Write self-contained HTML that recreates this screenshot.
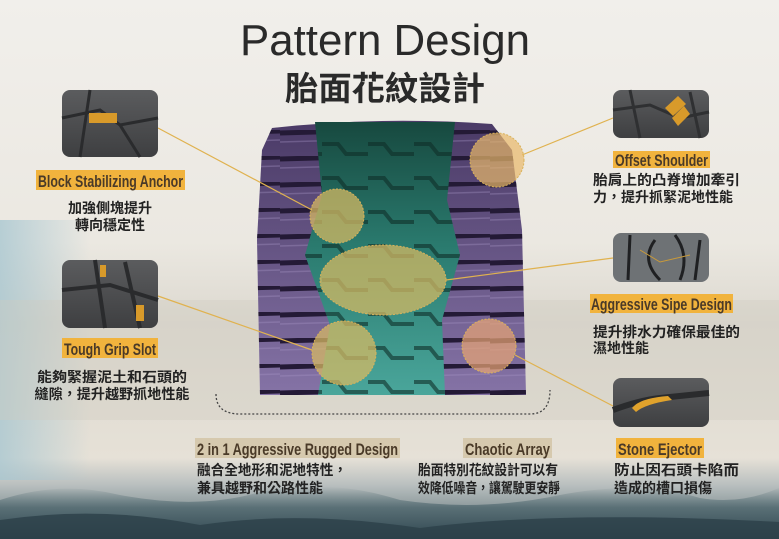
<!DOCTYPE html>
<html><head><meta charset="utf-8"><style>
html,body{margin:0;padding:0;width:779px;height:539px;overflow:hidden;background:#efede8}
svg{display:block}
</style></head><body>
<svg width="779" height="539" viewBox="0 0 779 539" xmlns="http://www.w3.org/2000/svg">
<defs>
<linearGradient id="bg" x1="0" y1="0" x2="0" y2="1">
<stop offset="0" stop-color="#f1efeb"/><stop offset="0.45" stop-color="#ebe8e1"/>
<stop offset="0.6" stop-color="#dcd8cf"/><stop offset="0.85" stop-color="#e6e1d7"/>
<stop offset="0.9" stop-color="#b9bfbf"/><stop offset="1" stop-color="#4f666c"/>
</linearGradient>
<linearGradient id="leftblue" x1="0" y1="0" x2="1" y2="0">
<stop offset="0" stop-color="#a9c7d1" stop-opacity="0.8"/><stop offset="1" stop-color="#a9c7d1" stop-opacity="0"/>
</linearGradient>
<linearGradient id="teal" x1="0" y1="0" x2="0" y2="1">
<stop offset="0" stop-color="#17493f"/><stop offset="0.45" stop-color="#2a7a6e"/><stop offset="1" stop-color="#4aa69b"/>
</linearGradient>
<linearGradient id="purp" x1="0" y1="0" x2="0" y2="1">
<stop offset="0" stop-color="#4a3a66"/><stop offset="1" stop-color="#8573a6"/>
</linearGradient>
<pattern id="tread" width="70" height="26" patternUnits="userSpaceOnUse">
<path d="M0 3 L70 1" stroke="#241a36" stroke-width="5"/>
<path d="M0 12 L70 10" stroke="#a593c4" stroke-width="1.5" opacity="0.35"/>
</pattern>
<pattern id="tread2" width="46" height="34" patternUnits="userSpaceOnUse">
<path d="M0 8 L16 8 L24 18 L46 18" stroke="#0e2e28" stroke-width="4" fill="none"/>
</pattern>
<linearGradient id="thumb" x1="0" y1="0" x2="0" y2="1"><stop offset="0" stop-color="#5b5c5e"/><stop offset="1" stop-color="#3e3f41"/></linearGradient>
<linearGradient id="bottom" x1="0" y1="0" x2="0" y2="1"><stop offset="0" stop-color="#6f8388" stop-opacity="0"/><stop offset="0.4" stop-color="#5a7076"/><stop offset="1" stop-color="#2f4650"/></linearGradient>
</defs>
<rect width="779" height="539" fill="url(#bg)"/>
<rect x="0" y="220" width="90" height="260" fill="url(#leftblue)"/>
<rect x="0" y="300" width="779" height="120" fill="#cfcac0" opacity="0.35"/>
<path d="M0 500 Q60 480 120 495 Q200 510 260 492 Q330 478 400 500 Q480 512 560 495 Q640 480 700 498 Q740 505 779 488 L779 539 L0 539 Z" fill="url(#bottom)"/>
<path d="M0 520 Q100 505 200 525 Q300 510 420 528 Q560 510 779 522 L779 539 L0 539Z" fill="#2c4048" opacity="0.8"/>

<text x="385" y="55" text-anchor="middle" font-family="Liberation Sans, sans-serif" font-size="44" fill="#2a2a2a" textLength="290" lengthAdjust="spacingAndGlyphs">Pattern Design</text>
<text x="385" y="100" text-anchor="middle" font-family="Liberation Sans, Noto Sans CJK TC, sans-serif" font-size="33" font-weight="bold" fill="#2a2a2a" textLength="200" lengthAdjust="spacingAndGlyphs">胎面花紋設計</text>

<path d="M272 128 Q380 116 492 124 L512 150 L522 230 L526 395 L260 395 L257 240 L262 150 Z" fill="url(#purp)"/>
<path d="M272 128 Q380 116 492 124 L512 150 L522 230 L526 395 L260 395 L257 240 L262 150 Z" fill="url(#tread)"/>
<path d="M315 122 L455 122 L447 200 L460 255 L442 320 L445 395 L318 395 L330 325 L305 255 L322 195 Z" fill="url(#teal)"/>
<path d="M315 122 L455 122 L447 200 L460 255 L442 320 L445 395 L318 395 L330 325 L305 255 L322 195 Z" fill="url(#tread2)" opacity="0.6"/>

<path d="M216 394 Q216 414 240 414 L530 414 Q550 414 550 390" fill="none" stroke="#444" stroke-width="1.3" stroke-dasharray="2 2"/>

<g stroke="#e0b24f" stroke-width="1.2" fill="none">
<line x1="158" y1="128" x2="312" y2="210"/>
<line x1="158" y1="296" x2="312" y2="350"/>
<line x1="613" y1="118" x2="522" y2="155"/>
<line x1="613" y1="258" x2="446" y2="280"/>
<line x1="613" y1="406" x2="515" y2="355"/>
</g>
<g stroke="#d9b25a" stroke-width="1" stroke-dasharray="2 1.5">
<circle cx="337" cy="216" r="27" fill="#d9bb63" fill-opacity="0.72"/>
<ellipse cx="383" cy="280" rx="63" ry="35" fill="#d9bb63" fill-opacity="0.72"/>
<circle cx="344" cy="353" r="32" fill="#d9bb63" fill-opacity="0.72"/>
<circle cx="497" cy="160" r="27" fill="#e8b86a" fill-opacity="0.7"/>
<circle cx="489" cy="346" r="27" fill="#e9a574" fill-opacity="0.7"/>
</g>

<g>
<rect x="62" y="90" width="96" height="67" rx="8" fill="url(#thumb)"/>
<path d="M62 118 L100 110 L120 125 L158 118 M90 90 L80 157 M120 125 L140 157" stroke="#2a2b2d" stroke-width="3" fill="none"/>
<rect x="89" y="113" width="28" height="10" fill="#d89a2a"/>
<rect x="62" y="260" width="96" height="68" rx="8" fill="url(#thumb)"/>
<path d="M62 290 L110 285 L158 300 M95 260 L105 328 M125 262 L140 328" stroke="#2a2b2d" stroke-width="4" fill="none"/>
<rect x="100" y="265" width="6" height="12" fill="#d89a2a"/><rect x="136" y="305" width="8" height="16" fill="#d89a2a"/>
<rect x="613" y="90" width="96" height="48" rx="8" fill="url(#thumb)"/>
<path d="M613 110 L650 105 L680 118 L709 112 M630 90 L640 138 M690 92 L700 138" stroke="#2f3032" stroke-width="3" fill="none"/>
<path d="M665 108 L678 96 L686 104 L673 116 Z M672 118 L684 106 L690 114 L678 126 Z" fill="#d89a2a"/>
<rect x="613" y="233" width="96" height="49" rx="8" fill="#6e7275"/>
<path d="M630 235 L628 280 M655 240 Q640 260 660 280 M675 235 Q690 255 680 280 M700 240 L695 280" stroke="#1f2022" stroke-width="3" fill="none"/>
<path d="M640 250 L660 262 L690 255" stroke="#c99a3a" stroke-width="1" fill="none"/>
<rect x="613" y="378" width="96" height="49" rx="8" fill="url(#thumb)"/>
<path d="M613 410 Q640 400 660 398 L709 393" stroke="#2a2b2d" stroke-width="6" fill="none"/>
<path d="M632 408 Q640 398 668 396 L672 400 Q645 404 636 412 Z" fill="#e0a22c"/>
</g>

<g font-family="Liberation Sans Narrow, Liberation Sans, sans-serif" font-weight="bold" font-size="17" fill="#4a3a28">
<rect x="36" y="170" width="149" height="20" fill="#f1b33d"/>
<text x="38" y="187" textLength="145" lengthAdjust="spacingAndGlyphs">Block Stabilizing Anchor</text>
<rect x="62" y="338" width="96" height="20" fill="#f1b33d"/>
<text x="64" y="355" textLength="92" lengthAdjust="spacingAndGlyphs">Tough Grip Slot</text>
<rect x="613" y="151" width="97" height="17" fill="#f1b33d"/>
<text x="615" y="166" textLength="93" lengthAdjust="spacingAndGlyphs">Offset Shoulder</text>
<rect x="590" y="294" width="143" height="19" fill="#f1b33d"/>
<text x="591" y="310" textLength="141" lengthAdjust="spacingAndGlyphs">Aggressive Sipe Design</text>
<rect x="616" y="438" width="88" height="20" fill="#f1b33d"/>
<text x="618" y="455" textLength="84" lengthAdjust="spacingAndGlyphs">Stone Ejector</text>
<rect x="195" y="438" width="205" height="20" fill="#d6c9ae"/>
<text x="197" y="455" textLength="201" lengthAdjust="spacingAndGlyphs">2 in 1 Aggressive Rugged Design</text>
<rect x="463" y="438" width="89" height="20" fill="#d6c9ae"/>
<text x="465" y="455" textLength="85" lengthAdjust="spacingAndGlyphs">Chaotic Array</text>
</g>

<g font-family="Liberation Sans, Noto Sans CJK TC, sans-serif" font-weight="bold" font-size="14" fill="#222">
<text x="110" y="213" text-anchor="middle">加強側塊提升</text>
<text x="110" y="230" text-anchor="middle">轉向穩定性</text>
<text x="112" y="382" text-anchor="middle" textLength="150" lengthAdjust="spacingAndGlyphs">能夠緊握泥土和石頭的</text>
<text x="112" y="399" text-anchor="middle" textLength="155" lengthAdjust="spacingAndGlyphs">縫隙，提升越野抓地性能</text>
<text x="593" y="185" textLength="147" lengthAdjust="spacingAndGlyphs">胎肩上的凸脊增加牽引</text>
<text x="593" y="202" textLength="140" lengthAdjust="spacingAndGlyphs">力，提升抓緊泥地性能</text>
<text x="593" y="337" textLength="147" lengthAdjust="spacingAndGlyphs">提升排水力確保最佳的</text>
<text x="593" y="353">濕地性能</text>
<text x="614" y="475" textLength="125" lengthAdjust="spacingAndGlyphs">防止因石頭卡陷而</text>
<text x="614" y="493">造成的槽口損傷</text>
<text x="197" y="475" textLength="150" lengthAdjust="spacingAndGlyphs">融合全地形和泥地特性，</text>
<text x="197" y="493">兼具越野和公路性能</text>
<text x="418" y="475" textLength="140" lengthAdjust="spacingAndGlyphs">胎面特別花紋設計可以有</text>
<text x="418" y="493" textLength="142" lengthAdjust="spacingAndGlyphs">效降低噪音，讓駕駛更安靜</text>
</g>
</svg>
</body></html>
